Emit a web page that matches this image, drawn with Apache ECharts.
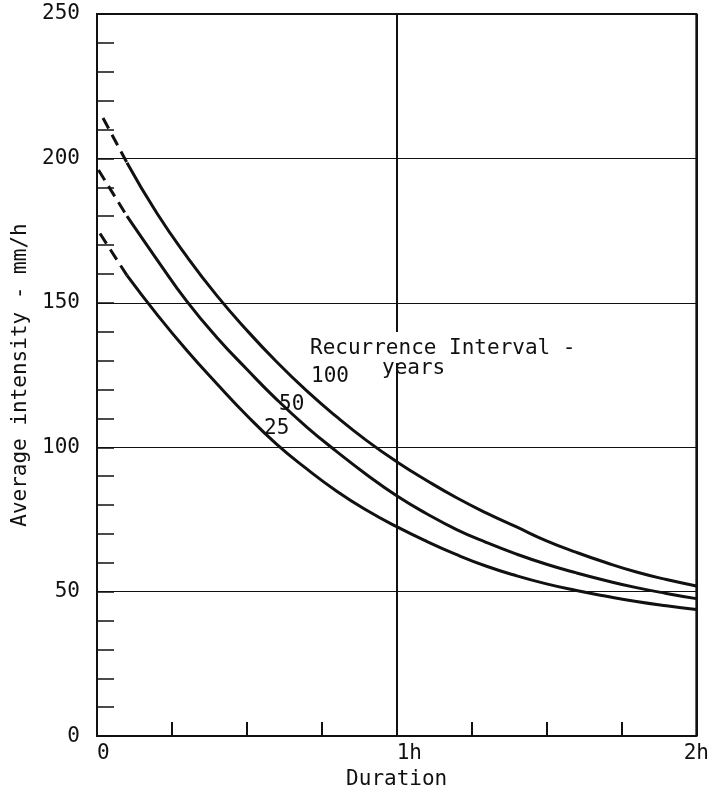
<!DOCTYPE html>
<html>
<head>
<meta charset="utf-8">
<script src="https://cdn.jsdelivr.net/npm/echarts@6/dist/echarts.min.js"></script>
<style>
  html, body { margin: 0; padding: 0; background: #fff; }
  #chart { width: 712px; height: 795px; }
</style>
</head>
<body>
<div id="chart"></div>
<script>
// duration in hours, intensity in mm/h
var durHours = [0.1, 0.2, 0.3, 0.4, 0.5, 0.6, 0.7, 0.8, 0.9, 1.0,
                1.1, 1.2, 1.3, 1.4, 1.5, 1.6, 1.7, 1.8, 1.9, 2.0];
var int100 = [198.5, 181, 166, 152.5, 140.5, 129.5, 119.5, 110.5, 102.3, 95,
              88.5, 82.5, 77.2, 72.4, 67.6, 63.6, 60, 56.8, 54.2, 52];
var int50  = [180, 165, 150.5, 138, 127, 116.5, 107, 98.5, 90.5, 83.2,
              77, 71.5, 67, 63, 59.5, 56.5, 53.8, 51.4, 49.4, 47.6];
var int25  = [159.5, 146, 133.5, 122, 111, 101, 92.5, 84.8, 78.2, 72.5,
              67.4, 62.8, 58.8, 55.5, 52.7, 50.4, 48.4, 46.6, 45.1, 43.8];

// extrapolated (dashed) starts of each curve
var dashDur100 = [0.02, 0.1];
var dash100 = [214, 198.5];
var dashDur50 = [0.005, 0.1];
var dash50 = [196, 180];
var dashDur25 = [0.01, 0.1];
var dash25 = [174, 159.5];

var xTickLabels = {0: '0', 1: '1h', 2: '2h'};

var FONT = 'DejaVu Sans Mono';
var INK = '#111';

function pairs(xs, ys) {
  var out = [];
  for (var i = 0; i < xs.length; i++) out.push([xs[i], ys[i]]);
  return out;
}

function solid(name, xs, ys) {
  return {
    name: name, type: 'line', smooth: 0.5,
    showSymbol: false, silent: true,
    data: pairs(xs, ys),
    lineStyle: {color: INK, width: 3}
  };
}

function dashed(name, xs, ys) {
  return {
    name: name, type: 'line', showSymbol: false, silent: true,
    data: pairs(xs, ys),
    lineStyle: {color: INK, width: 3, type: [12, 7]}
  };
}

var dom = document.getElementById('chart');
var myChart = echarts.init(dom);

var option = {
  animation: false,
  backgroundColor: '#fff',
  textStyle: {fontFamily: FONT, color: INK},
  grid: {
    left: 97, right: 15, top: 14, bottom: 56,
    show: true, borderColor: INK, borderWidth: 2, backgroundColor: 'transparent'
  },
  xAxis: {
    type: 'value', min: 0, max: 2, interval: 1,
    name: 'Duration', nameLocation: 'middle', nameGap: 30,
    nameTextStyle: {fontFamily: FONT, fontSize: 21, color: INK},
    axisLine: {lineStyle: {color: INK, width: 2}},
    axisTick: {show: true, inside: true, length: 14, lineStyle: {color: INK, width: 2}},
    minorTick: {show: true, splitNumber: 4, length: 14, lineStyle: {color: INK, width: 2}},
    splitLine: {show: true, lineStyle: {color: INK, width: 2}},
    axisLabel: {
      fontFamily: FONT, fontSize: 21, color: INK, margin: 7,
      align: 'left', alignMaxLabel: 'center',
      formatter: function (v) { return xTickLabels[v] || ''; }
    }
  },
  yAxis: {
    type: 'value', min: 0, max: 250, interval: 50,
    name: 'Average intensity - mm/h', nameLocation: 'middle', nameGap: 62,
    nameTextStyle: {fontFamily: FONT, fontSize: 21, color: INK},
    axisLine: {show: true, lineStyle: {color: INK, width: 2}},
    axisTick: {show: true, inside: true, length: 17, lineStyle: {color: INK, width: 1.5}},
    minorTick: {show: true, splitNumber: 5, length: 17, lineStyle: {color: INK, width: 1.5}},
    splitLine: {show: true, lineStyle: {color: INK, width: 1.2}},
    axisLabel: {fontFamily: FONT, fontSize: 21, color: INK, margin: 17}
  },
  series: [
    dashed('100 dashed', dashDur100, dash100),
    dashed('50 dashed', dashDur50, dash50),
    dashed('25 dashed', dashDur25, dash25),
    solid('100', durHours, int100),
    solid('50', durHours, int50),
    solid('25', durHours, int25)
  ],
  graphic: [
    {
      type: 'text', left: 306, top: 332, z: 100,
      style: {
        text: 'Recurrence Interval -', font: '21px "' + FONT + '"', fill: INK,
        backgroundColor: '#fff', padding: [6, 4, 4, 4]
      }
    },
    {type: 'text', left: 382, top: 358, z: 101, style: {text: 'years', font: '21px "' + FONT + '"', fill: INK}},
    {type: 'text', left: 311, top: 366, z: 101, style: {text: '100', font: '21px "' + FONT + '"', fill: INK}},
    {type: 'text', left: 279, top: 394, z: 101, style: {text: '50', font: '21px "' + FONT + '"', fill: INK}},
    {type: 'text', left: 264, top: 418, z: 101, style: {text: '25', font: '21px "' + FONT + '"', fill: INK}}
  ]
};

myChart.setOption(option);
</script>
</body>
</html>
